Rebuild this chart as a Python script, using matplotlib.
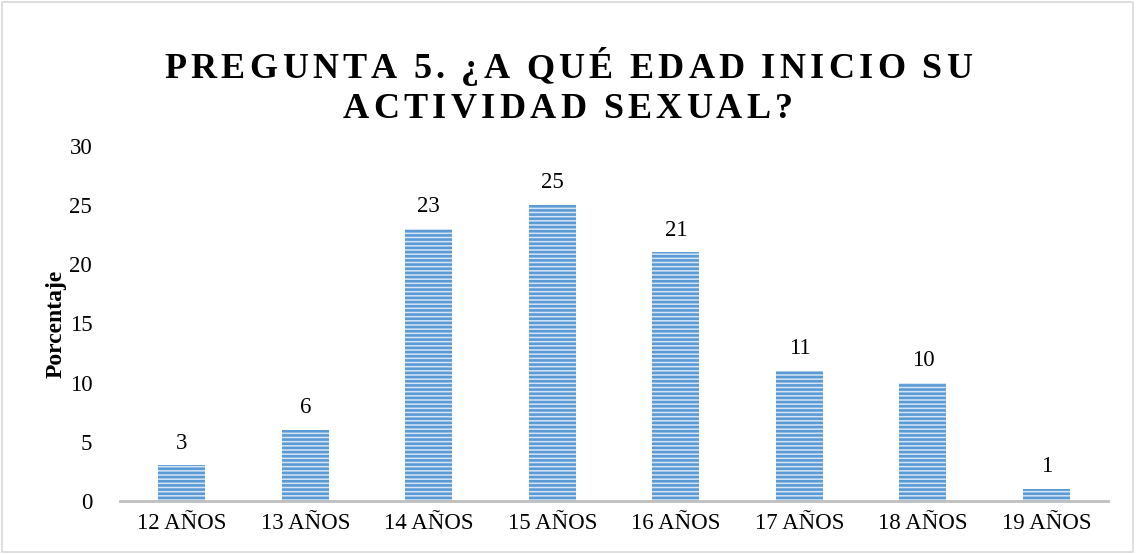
import matplotlib.pyplot as plt
from matplotlib.patches import Rectangle

categories = ["12 AÑOS", "13 AÑOS", "14 AÑOS", "15 AÑOS", "16 AÑOS", "17 AÑOS", "18 AÑOS", "19 AÑOS"]
values = [3, 6, 23, 25, 21, 11, 10, 1]
title_lines = ["PREGUNTA 5. ¿A QUÉ EDAD INICIO SU", "ACTIVIDAD SEXUAL?"]
ylabel = "Porcentaje"

plt.rcParams["font.family"] = ["Liberation Serif", "DejaVu Serif"]
plt.rcParams["hatch.color"] = "#5b9bd5"
plt.rcParams["hatch.linewidth"] = 1.9

fig = plt.figure(figsize=(11.36, 5.54), dpi=100)
ax = fig.add_axes([0.1056, 0.0957, 0.8700, 0.641])

x = range(len(categories))
ax.bar(x, values, width=0.38, color="#d6e5f5", edgecolor="#5b9bd5",
       linewidth=0, hatch="----")
for xi, v in zip(x, values):
    ax.text(xi, v + 1.0, str(v), ha="center", va="bottom", fontsize=16.5)

ax.set_xlim(-0.5, len(categories) - 0.5)
ax.set_ylim(0, 30)
ax.set_yticks(range(0, 31, 5))
ax.set_xticks(list(x))
ax.set_xticklabels(categories)
ax.tick_params(length=0, labelsize=16.5)
ax.tick_params(axis="x", pad=9)
ax.tick_params(axis="y", pad=20)
for s in ["top", "right", "left"]:
    ax.spines[s].set_visible(False)
ax.spines["bottom"].set_color("#bfbfbf")
ax.spines["bottom"].set_linewidth(2)
ax.set_ylabel(ylabel, fontsize=17, fontweight="bold", labelpad=2)


# title with letter spacing, drawn char by char
def spaced_line(text, y, size, spacing):
    r = fig.canvas.get_renderer()
    widths = []
    for ch in text:
        t = fig.text(0, 0, ch, fontsize=size, fontweight="bold")
        bb = t.get_window_extent(renderer=r)
        widths.append(bb.width if ch != " " else size * 0.3)
        t.remove()
    total = sum(widths) + spacing * (len(text) - 1)
    cx = fig.bbox.width / 2 - total / 2
    for ch, w in zip(text, widths):
        fig.text(cx / fig.bbox.width, y, ch, fontsize=size, fontweight="bold",
                 ha="left", va="baseline")
        cx += w + spacing


spaced_line(title_lines[0], 1 - 78 / 554, 26, 4.3)
spaced_line(title_lines[1], 1 - 118 / 554, 26, 4.3)

fig.patches.append(Rectangle((0.002, 0.003), 0.995, 0.993, transform=fig.transFigure,
                             fill=False, edgecolor="#d9d9d9", linewidth=1.2))

fig.savefig("out.png", dpi=100)
